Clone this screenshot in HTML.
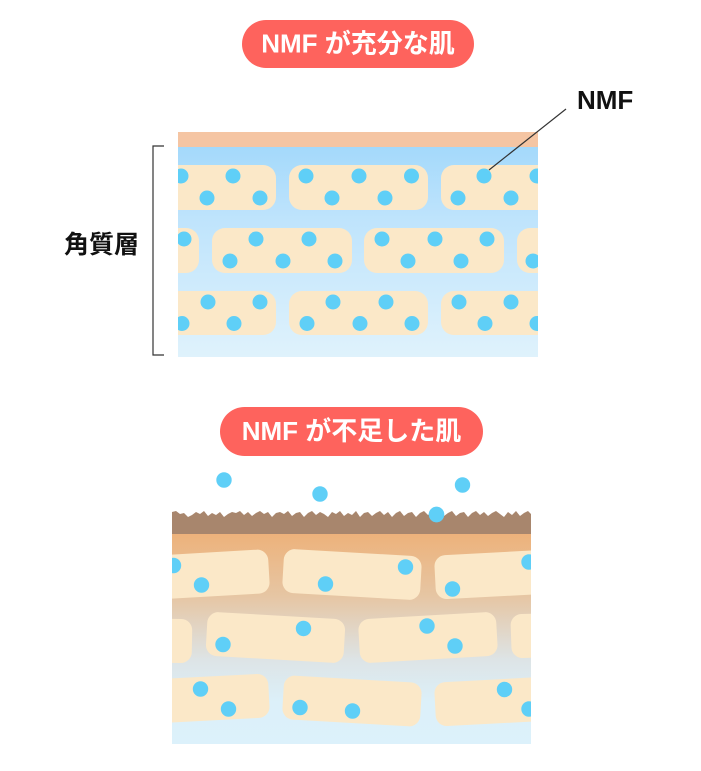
<!DOCTYPE html>
<html><head><meta charset="utf-8"><style>
html,body{margin:0;padding:0;background:#fff;}
svg{display:block;}
text{font-family:"Liberation Sans","Noto Sans CJK JP",sans-serif;}
</style></head><body>
<svg width="701" height="771" viewBox="0 0 701 771" xmlns="http://www.w3.org/2000/svg">
<defs>
<linearGradient id="gTop" x1="0" y1="0" x2="0" y2="1">
<stop offset="0" stop-color="#a4d9fb"/>
<stop offset="0.35" stop-color="#bfe4fc"/>
<stop offset="1" stop-color="#dff2fc"/>
</linearGradient>
<linearGradient id="gBot" x1="0" y1="534" x2="0" y2="744" gradientUnits="userSpaceOnUse">
<stop offset="0" stop-color="#edb27b"/>
<stop offset="0.3" stop-color="#e6c6a4"/>
<stop offset="0.6" stop-color="#dde4e6"/>
<stop offset="0.8" stop-color="#dcf0f9"/>
<stop offset="1" stop-color="#dcf1fb"/>
</linearGradient>
<clipPath id="c1"><rect x="178" y="132" width="360" height="225"/></clipPath>
<clipPath id="c2"><rect x="172" y="500" width="359" height="244"/></clipPath>
</defs>

<!-- Title 1 -->
<rect x="242" y="20" width="232" height="48" rx="24" fill="#fe635d"/>
<text x="358" y="52.5" font-size="26" font-weight="bold" fill="#fff" text-anchor="middle">NMF が充分な肌</text>

<!-- Top diagram -->
<g clip-path="url(#c1)">
<rect x="178" y="147" width="360" height="210" fill="url(#gTop)"/>
<rect x="178" y="132" width="360" height="15" fill="#f5c5a3"/>
<g fill="#fbe8c8">
<rect x="137" y="165" width="139" height="45" rx="13"/>
<rect x="289" y="165" width="139" height="45" rx="13"/>
<rect x="441" y="165" width="139" height="45" rx="13"/>
<rect x="60" y="228" width="139" height="45" rx="13"/>
<rect x="212" y="228" width="140" height="45" rx="13"/>
<rect x="364" y="228" width="140" height="45" rx="13"/>
<rect x="517" y="228" width="140" height="45" rx="13"/>
<rect x="137" y="291" width="139" height="44" rx="13"/>
<rect x="289" y="291" width="139" height="44" rx="13"/>
<rect x="441" y="291" width="139" height="44" rx="13"/>
</g>
<g fill="#5fcff7">
<circle cx="181" cy="176" r="7.5"/><circle cx="233" cy="176" r="7.5"/><circle cx="207" cy="198" r="7.5"/><circle cx="260" cy="198" r="7.5"/>
<circle cx="306" cy="176" r="7.5"/><circle cx="359" cy="176" r="7.5"/><circle cx="411.5" cy="176" r="7.5"/><circle cx="332" cy="198" r="7.5"/><circle cx="385" cy="198" r="7.5"/>
<circle cx="484" cy="176" r="7.5"/><circle cx="537" cy="176" r="7.5"/><circle cx="458" cy="198" r="7.5"/><circle cx="511" cy="198" r="7.5"/>
<circle cx="184" cy="239" r="7.5"/><circle cx="256" cy="239" r="7.5"/><circle cx="309" cy="239" r="7.5"/><circle cx="382" cy="239" r="7.5"/><circle cx="435" cy="239" r="7.5"/><circle cx="487" cy="239" r="7.5"/>
<circle cx="230" cy="261" r="7.5"/><circle cx="283" cy="261" r="7.5"/><circle cx="335" cy="261" r="7.5"/><circle cx="408" cy="261" r="7.5"/><circle cx="461" cy="261" r="7.5"/><circle cx="533" cy="261" r="7.5"/>
<circle cx="208" cy="302" r="7.5"/><circle cx="260" cy="302" r="7.5"/><circle cx="333" cy="302" r="7.5"/><circle cx="386" cy="302" r="7.5"/><circle cx="459" cy="302" r="7.5"/><circle cx="511" cy="302" r="7.5"/>
<circle cx="182" cy="323.5" r="7.5"/><circle cx="234" cy="323.5" r="7.5"/><circle cx="307" cy="323.5" r="7.5"/><circle cx="360" cy="323.5" r="7.5"/><circle cx="412" cy="323.5" r="7.5"/><circle cx="485" cy="323.5" r="7.5"/><circle cx="537" cy="323.5" r="7.5"/>
</g>
</g>

<!-- bracket -->
<path d="M164,146 H153 V355 H164" fill="none" stroke="#333" stroke-width="1.2"/>
<text x="64" y="253" font-size="25" font-weight="bold" fill="#111">角質層</text>

<!-- NMF label -->
<line x1="566" y1="109" x2="489" y2="170" stroke="#333" stroke-width="1.2"/>
<text x="577" y="109" font-size="26" font-weight="bold" fill="#111">NMF</text>

<!-- Title 2 -->
<rect x="220" y="407" width="263" height="49" rx="24.5" fill="#fe635d"/>
<text x="351.5" y="440" font-size="26" font-weight="bold" fill="#fff" text-anchor="middle">NMF が不足した肌</text>

<!-- Bottom diagram -->
<g clip-path="url(#c2)">
<rect x="172" y="533" width="359" height="211" fill="url(#gBot)"/>
<path fill="#a8866d" d="M172,534 L172,512 L176,511 L180,514 L184,513 L188,517 L192,515 L196,512 L200,514 L204,511 L208,516 L212,513 L216,515 L220,512 L224,517 L228,514 L232,512 L236,513 L240,511 L244,515 L248,512 L252,516 L256,513 L260,511 L264,514 L268,512 L272,517 L276,513 L280,512 L284,514 L288,511 L292,516 L296,513 L300,512 L304,517 L308,513 L312,511 L316,515 L320,512 L324,514 L328,517 L332,512 L336,514 L340,511 L344,516 L348,513 L352,515 L356,511 L360,517 L364,513 L368,512 L372,516 L376,513 L380,511 L384,515 L388,512 L392,517 L396,513 L400,511 L404,516 L408,513 L412,512 L416,517 L420,513 L424,511 L428,515 L432,512 L436,514 L440,512 L444,516 L448,513 L452,511 L456,516 L460,513 L464,512 L468,517 L472,513 L476,511 L480,515 L484,512 L488,516 L492,513 L496,511 L500,514 L504,517 L508,512 L512,515 L516,511 L520,516 L524,513 L528,511 L531,514 L531,534 Z"/>
<g fill="#fbe8c8">
<rect x="-69" y="-22" width="138" height="44" rx="11" transform="translate(200,575) rotate(-3.3)"/>
<rect x="-69" y="-22" width="138" height="44" rx="11" transform="translate(352,574.5) rotate(3.3)"/>
<rect x="-69" y="-22" width="138" height="44" rx="11" transform="translate(504,574) rotate(-3)"/>
<rect x="-69" y="-22" width="138" height="44" rx="11" transform="translate(123,640) rotate(1)"/>
<rect x="-69" y="-22" width="138" height="44" rx="11" transform="translate(275.5,637.5) rotate(3.3)"/>
<rect x="-69" y="-22" width="138" height="44" rx="11" transform="translate(428,637.5) rotate(-3.3)"/>
<rect x="-69" y="-22" width="138" height="44" rx="11" transform="translate(580,634) rotate(-2)"/>
<rect x="-69" y="-22" width="138" height="44" rx="11" transform="translate(200,699) rotate(-3)"/>
<rect x="-69" y="-22" width="138" height="44" rx="11" transform="translate(352,701) rotate(3.3)"/>
<rect x="-69" y="-22" width="138" height="44" rx="11" transform="translate(504,701) rotate(-3)"/>
</g>
<g fill="#5fcff7">
<circle cx="436.5" cy="514.5" r="7.7"/>
<circle cx="173.5" cy="565.5" r="7.7"/><circle cx="201.5" cy="585" r="7.7"/><circle cx="325.5" cy="584" r="7.7"/><circle cx="405.5" cy="567" r="7.7"/><circle cx="452.5" cy="589" r="7.7"/><circle cx="529" cy="562" r="7.7"/>
<circle cx="303.5" cy="628.5" r="7.7"/><circle cx="223" cy="644.5" r="7.7"/><circle cx="427" cy="626" r="7.7"/><circle cx="455" cy="646" r="7.7"/>
<circle cx="200.5" cy="689" r="7.7"/><circle cx="228.5" cy="709" r="7.7"/><circle cx="300" cy="707.5" r="7.7"/><circle cx="352.5" cy="711" r="7.7"/><circle cx="504.5" cy="689.5" r="7.7"/><circle cx="529" cy="709" r="7.7"/>
</g>
</g>
<g fill="#5fcff7">
<circle cx="224" cy="480" r="7.7"/><circle cx="320" cy="494" r="7.7"/><circle cx="462.5" cy="485" r="7.7"/><circle cx="436.5" cy="514.5" r="7.7"/>
</g>
</svg>
</body></html>
